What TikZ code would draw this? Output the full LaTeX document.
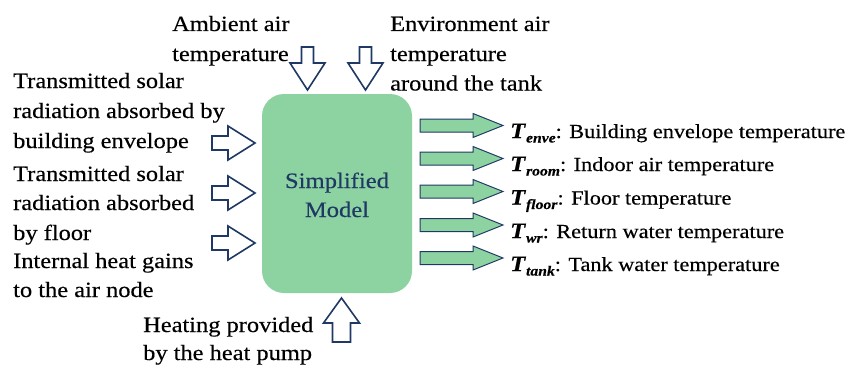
\documentclass[tikz,border=0pt]{standalone}
\usepackage{fontspec}
\setmainfont{Liberation Serif}[FakeStretch=1.12, FakeBold=0.35]
\definecolor{boxgreen}{RGB}{141,211,161}
\definecolor{navy}{RGB}{31,56,100}
\newcommand\blockarr[7]{%
  \draw[#1, shift={(#2)}, rotate=#3]
    (0,-#6) -- (#4,-#6) -- (#4,-#7) -- (#4+#5,0) -- (#4,#7) -- (#4,#6) -- (0,#6) -- cycle;}
\newcommand\tvar[1]{{\fontsize{22}{24}\selectfont\textbf{\textit{T}}}\raisebox{-4.5pt}{\fontsize{14}{16}\selectfont\textbf{\textit{#1}}}}
\begin{document}
\begin{tikzpicture}[x=1pt,y=1pt,
  inarr/.style={draw=navy, line width=1.6pt, fill=white, line join=miter},
  outarr/.style={draw=navy, line width=1pt, fill=boxgreen, line join=miter},
  lbl/.style={anchor=base west, inner sep=0pt, font=\fontsize{21.8}{24}\selectfont},
  rlbl/.style={anchor=base west, inner sep=0pt, font=\fontsize{19.9}{22}\selectfont},
  mlbl/.style={anchor=base, inner sep=0pt, text=navy, font=\fontsize{22}{24}\selectfont}]
\useasboundingbox (0,0) rectangle (850,-369);

% central box
\node[fill=boxgreen, rounded corners=22pt, minimum width=150pt, minimum height=199pt, inner sep=0pt] (model) at (337,-193.5) {};
\node[mlbl] (m1) at (337,-188) {Simplified};
\node[mlbl] (m2) at (337,-217) {Model};

% top texts
\node[lbl] (a1) at (172,-31) {Ambient air};
\node[lbl] (a2) at (172,-61) {temperature};
\node[lbl] (e1) at (390,-31) {Environment air};
\node[lbl] (e2) at (390,-61) {temperature};
\node[lbl] (e3) at (390,-90.5) {around the tank};

% left texts
\node[lbl] (s1) at (13,-88) {Transmitted solar};
\node[lbl] (s2) at (13,-118) {radiation absorbed by};
\node[lbl] (s3) at (13,-148) {building envelope};
\node[lbl] (f1) at (13,-181) {Transmitted solar};
\node[lbl] (f2) at (13,-210) {radiation absorbed};
\node[lbl] (f3) at (13,-240) {by floor};
\node[lbl] (g1) at (13,-268) {Internal heat gains};
\node[lbl] (g2) at (13,-297) {to the air node};

% bottom text
\node[lbl] (h1) at (143,-332) {Heating provided};
\node[lbl] (h2) at (143,-360) {by the heat pump};

% input arrows
\blockarr{inarr}{307.5,-47}{-90}{16}{27}{6}{17.5}
\blockarr{inarr}{365.5,-47}{-90}{16}{27}{6}{17.5}
\blockarr{inarr}{212,-143}{0}{16}{27}{7}{17}
\blockarr{inarr}{212,-193}{0}{16}{27}{7}{17}
\blockarr{inarr}{212,-243}{0}{16}{27}{7}{17}
\blockarr{inarr}{341.5,-342}{90}{19}{25}{9}{18}

% output arrows
\blockarr{outarr}{420,-125.5}{0}{53}{30}{6.5}{12}
\blockarr{outarr}{420,-158.5}{0}{53}{30}{6.5}{12}
\blockarr{outarr}{420,-191.5}{0}{53}{30}{6.5}{12}
\blockarr{outarr}{420,-225}{0}{53}{30}{6.5}{12}
\blockarr{outarr}{420,-258}{0}{53}{30}{6.5}{12}

% output texts
\node[rlbl] (o1) at (510,-138) {\tvar{enve}: Building envelope temperature};
\node[rlbl] (o2) at (510,-171) {\tvar{room}: Indoor air temperature};
\node[rlbl] (o3) at (510,-204.5) {\tvar{floor}: Floor temperature};
\node[rlbl] (o4) at (510,-238) {\tvar{wr}: Return water temperature};
\node[rlbl] (o5) at (510,-271) {\tvar{tank}: Tank water temperature};
\end{tikzpicture}
\end{document}
